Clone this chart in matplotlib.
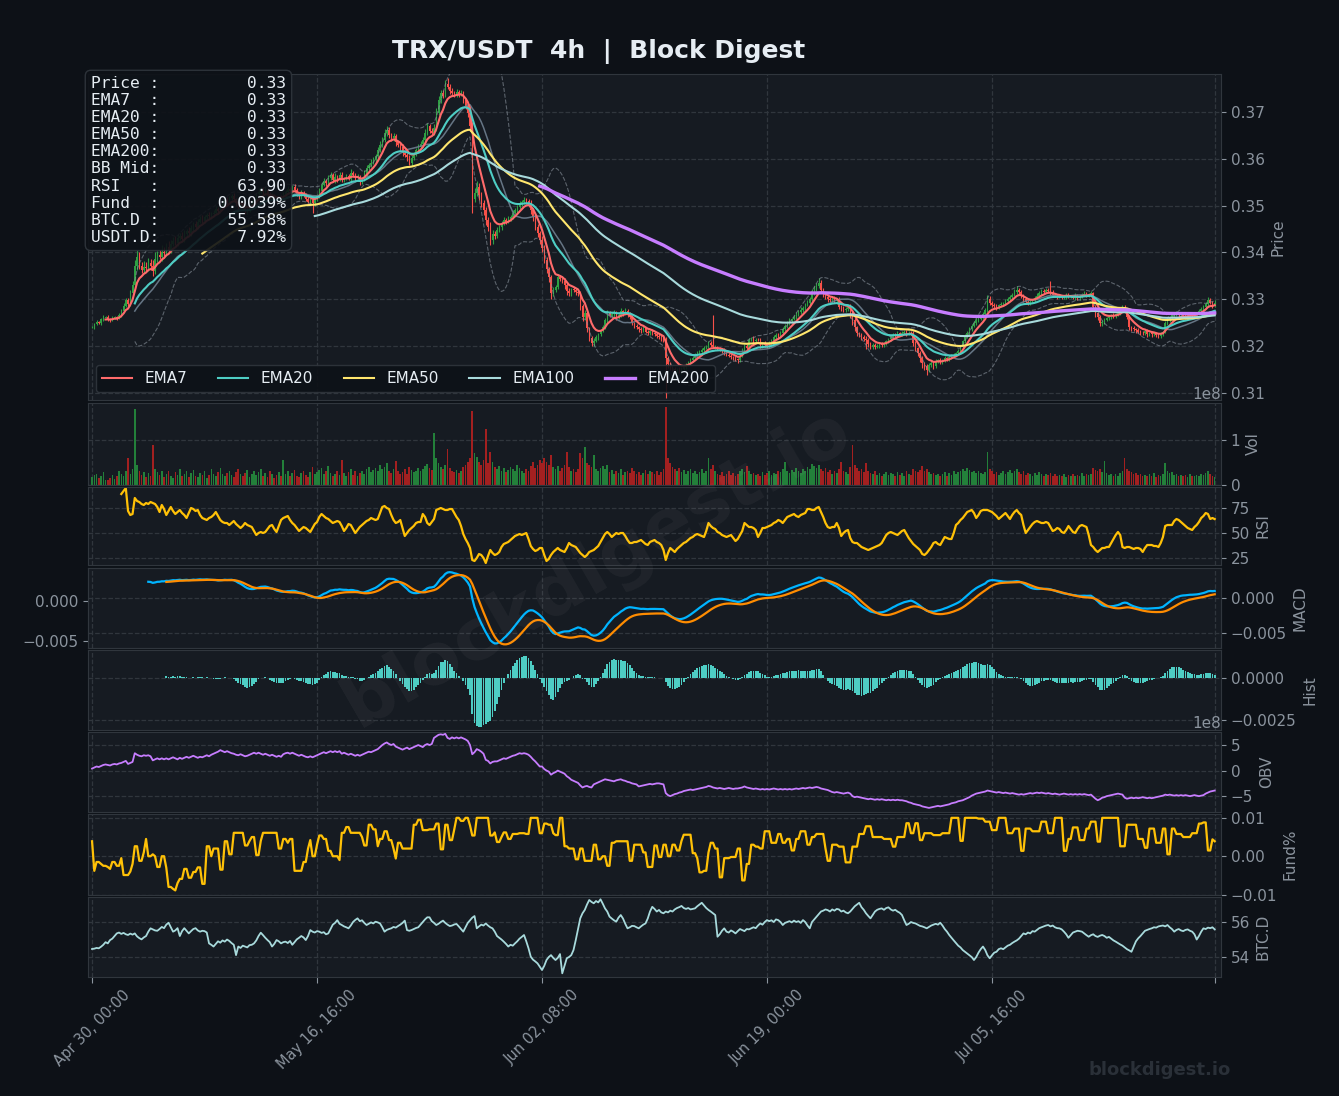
import numpy as np
import pandas as pd
import matplotlib
matplotlib.use("Agg")
import matplotlib.pyplot as plt
from matplotlib.ticker import FixedLocator

# ---------------- data ----------------
# close prices, units of 1e-4 USDT, 4h candles from Apr 30 00:00
close_e4 = [
    3241,3248,3252,3250,3257,3261,3263,3258,3255,3260,3262,3259,3266,3275,3286,3298,3290,3313,3330,3372,3390,3372,3362,3370,3366,
    3378,3371,3360,3385,3395,3390,3402,3398,3412,3405,3418,3425,3420,3431,3435,3428,3440,3446,3441,3452,3460,3455,3466,3472,3468,
    3475,3481,3477,3483,3485,3492,3488,3500,3506,3512,3508,3516,3520,3514,3505,3498,3502,3494,3488,3490,3497,3505,3512,3524,3530,
    3535,3529,3533,3524,3518,3522,3515,3510,3517,3515,3522,3530,3536,3532,3540,3533,3525,3520,3528,3522,3515,3508,3512,3505,3514,
    3520,3532,3545,3552,3548,3560,3566,3555,3562,3556,3566,3556,3559,3563,3557,3570,3565,3558,3562,3550,3555,3568,3580,3586,3592,
    3597,3605,3618,3630,3640,3655,3662,3650,3645,3648,3636,3630,3625,3612,3608,3604,3590,3602,3610,3618,3625,3632,3640,3656,3669,
    3660,3655,3665,3698,3725,3740,3735,3760,3754,3745,3740,3736,3742,3738,3740,3726,3712,3698,3670,3515,3528,3540,3522,3506,3490,
    3470,3455,3427,3440,3436,3448,3455,3462,3470,3466,3472,3476,3485,3490,3497,3503,3508,3512,3509,3505,3490,3476,3454,3441,3427,
    3410,3384,3365,3347,3313,3320,3326,3347,3344,3340,3330,3318,3313,3322,3320,3316,3313,3285,3262,3270,3238,3218,3206,3212,3219,
    3226,3233,3241,3255,3270,3265,3268,3272,3262,3266,3274,3270,3276,3268,3262,3249,3244,3240,3236,3234,3238,3231,3228,3232,3228,
    3225,3222,3219,3216,3213,3175,3162,3155,3152,3148,3150,3146,3152,3155,3160,3166,3170,3175,3180,3185,3188,3191,3196,3200,3206,
    3202,3198,3198,3195,3193,3191,3186,3182,3180,3177,3174,3172,3170,3180,3191,3200,3196,3213,3216,3210,3214,3213,3200,3206,3203,
    3200,3206,3212,3219,3224,3222,3228,3236,3242,3249,3254,3258,3262,3268,3273,3277,3282,3288,3292,3300,3313,3322,3328,3335,3320,
    3310,3305,3300,3298,3302,3296,3298,3283,3280,3277,3280,3283,3268,3256,3240,3228,3225,3220,3216,3213,3205,3198,3203,3199,3200,
    3204,3202,3205,3210,3215,3219,3224,3222,3228,3225,3228,3231,3226,3229,3228,3206,3195,3185,3175,3164,3158,3150,3160,3164,3158,
    3168,3170,3166,3170,3174,3172,3177,3180,3182,3185,3190,3198,3210,3220,3228,3236,3244,3249,3255,3258,3262,3268,3277,3300,3292,
    3288,3285,3283,3287,3290,3290,3296,3300,3305,3310,3316,3320,3315,3308,3300,3295,3292,3295,3298,3303,3308,3313,3318,3316,3320,
    3318,3315,3310,3308,3305,3307,3304,3305,3309,3306,3306,3303,3308,3302,3306,3310,3312,3308,3311,3313,3283,3270,3262,3249,3252,
    3256,3260,3262,3266,3264,3268,3270,3276,3283,3275,3262,3241,3238,3236,3234,3231,3229,3228,3232,3226,3228,3225,3227,3224,3222,
    3226,3230,3249,3255,3262,3266,3268,3270,3266,3268,3265,3263,3267,3268,3266,3269,3270,3275,3280,3283,3290,3298,3292,3286,3293,
]
# upper / lower wick lengths, units of 1e-4
wick_hi_e4 = [
    3,2,4,2,3,5,2,3,2,4,3,2,5,4,6,5,4,6,8,12,15,10,8,12,9,
    10,8,12,15,9,11,14,10,8,12,9,7,10,8,6,9,7,5,8,6,4,7,5,6,8,
    5,4,6,3,5,7,4,6,5,3,6,4,5,7,3,5,4,6,3,5,4,6,5,3,7,
    5,4,6,3,5,4,3,6,4,5,8,4,6,3,5,7,4,3,5,4,6,3,4,5,3,
    4,6,5,8,4,6,5,3,7,4,5,6,3,4,5,8,3,4,6,3,5,7,6,5,8,
    6,5,8,7,6,9,8,5,4,6,5,3,4,6,3,5,4,6,5,4,7,5,6,8,7,
    6,5,9,10,8,7,6,8,12,6,7,5,8,4,6,5,4,6,5,8,10,12,9,7,6,
    8,6,10,7,5,6,4,5,6,3,5,4,6,5,4,7,5,6,4,5,6,4,5,6,5,
    8,6,7,5,4,6,5,8,4,6,5,4,6,3,5,4,6,5,4,7,5,3,4,5,4,
    3,4,5,6,8,4,5,6,3,5,7,4,5,3,4,5,3,4,3,5,4,3,4,3,4,
    3,4,3,5,4,6,5,4,3,4,3,5,3,4,5,3,4,3,5,4,3,4,5,3,6,
    4,64,5,3,4,3,4,3,4,3,3,4,3,5,6,4,5,4,3,5,4,3,4,3,4,
    3,4,3,5,4,3,5,4,6,4,5,3,4,5,4,6,4,5,6,5,8,7,6,10,6,
    5,4,6,5,4,5,3,6,4,5,3,4,6,4,5,4,3,4,3,5,4,3,4,3,4,
    3,4,3,4,3,5,4,3,4,3,4,3,4,3,4,5,4,3,5,4,3,4,3,4,3,
    4,3,4,3,4,3,4,3,4,3,4,5,4,5,4,5,4,5,4,5,4,5,4,10,6,
    5,4,5,4,5,4,5,4,5,4,6,8,5,4,3,4,3,4,3,4,5,4,5,4,5,
    4,20,5,4,3,4,3,4,5,4,3,4,5,4,3,4,5,4,3,4,3,4,3,4,3,
    4,3,4,3,4,3,4,3,5,4,3,4,3,4,3,4,3,4,3,4,3,4,3,4,3,
    4,3,5,4,3,4,3,4,3,4,3,4,3,4,3,4,3,4,3,4,5,6,5,4,5,
]
wick_lo_e4 = [
    3,4,2,3,4,3,2,4,3,2,3,4,2,3,4,3,5,4,3,6,10,8,6,5,7,
    6,8,10,7,6,5,8,6,5,7,6,5,4,6,5,4,6,5,4,5,6,4,5,4,6,
    5,4,6,5,4,3,6,4,5,6,4,3,5,4,6,5,7,4,5,6,4,5,3,4,5,
    4,5,3,6,4,5,7,4,5,3,4,6,5,4,5,3,4,6,5,4,5,3,6,20,5,
    4,3,5,4,6,3,5,4,6,5,4,6,5,4,3,5,4,6,5,7,4,3,4,5,3,
    4,5,3,4,5,4,6,5,7,6,8,5,6,7,5,8,4,5,4,5,3,4,5,4,5,
    6,5,4,5,4,5,6,4,5,6,5,4,5,6,5,7,6,8,10,31,8,7,9,8,10,
    12,10,12,8,7,6,5,6,4,5,4,5,4,3,5,4,3,4,6,7,8,9,7,8,10,
    8,7,9,10,12,6,5,4,6,5,7,8,6,5,4,6,5,7,8,6,7,8,6,5,4,
    5,4,3,4,5,3,4,5,6,4,3,5,4,6,5,4,5,4,6,5,4,3,4,5,4,
    4,5,3,4,5,85,8,7,6,8,5,4,5,3,4,3,4,3,4,3,4,3,4,3,3,
    4,3,4,3,4,5,4,3,4,5,4,3,5,4,3,4,3,4,3,5,4,3,4,3,5,
    4,3,4,3,5,4,3,4,3,4,3,4,3,4,3,4,5,4,3,4,3,4,5,4,6,
    5,4,5,4,6,4,5,4,6,5,4,6,8,10,8,6,5,7,6,20,6,5,4,5,4,
    4,3,4,3,4,3,4,3,4,3,4,3,4,3,4,6,5,7,8,10,8,12,6,5,6,
    5,4,5,4,3,4,3,4,3,4,3,4,3,4,3,4,3,4,3,4,3,4,3,5,4,
    5,4,5,4,3,4,3,4,3,4,3,4,5,6,5,4,5,4,3,4,3,4,3,4,3,
    4,5,4,3,4,3,4,3,4,3,4,3,4,3,4,3,4,3,4,3,6,8,7,6,5,
    4,3,4,3,4,3,4,3,4,3,5,6,5,4,5,4,5,4,5,6,4,5,4,5,4,
    5,4,3,4,3,4,3,4,3,4,3,4,3,4,3,4,3,4,3,4,3,4,3,4,3,
]
# volume, millions of TRX
vol_m = [
    18,22,25,15,20,28,12,10,16,22,14,19,30,25,20,32,60,24,35,169,45,30,22,28,18,
    26,20,89,35,28,22,30,18,25,32,20,15,28,22,35,19,24,30,17,26,33,21,18,27,23,
    30,16,22,35,25,20,28,38,24,19,26,31,22,17,29,36,24,20,27,33,18,25,30,22,28,
    35,20,26,18,30,24,15,22,28,19,56,25,30,21,27,34,20,18,26,31,23,17,29,40,24,
    28,33,38,25,30,42,27,20,24,31,22,56,26,19,28,35,23,30,21,27,32,25,36,41,29,
    33,38,30,45,36,40,48,32,27,35,53,30,25,29,36,24,40,33,28,31,37,30,35,42,46,
    38,34,115,60,48,40,35,45,80,37,30,28,34,26,31,40,45,52,60,164,70,63,50,45,55,
    124,48,73,52,40,35,42,30,38,28,33,40,36,30,45,38,32,27,35,30,42,50,38,45,55,
    48,60,52,45,66,40,35,42,30,38,45,73,40,32,36,28,35,71,60,85,48,45,40,67,35,
    30,38,42,36,45,28,33,25,30,27,35,22,28,32,26,38,30,24,29,22,27,33,25,30,28,
    24,30,22,28,35,174,60,48,40,35,30,38,28,33,25,30,36,27,32,24,29,35,26,31,61,
    36,45,30,25,22,28,20,24,30,22,26,19,25,30,35,28,42,30,24,27,22,25,20,28,23,
    26,30,22,27,24,32,28,35,51,30,26,33,29,38,32,27,35,30,40,36,47,42,38,45,35,
    30,38,28,33,25,30,27,36,51,32,28,25,40,89,45,38,30,35,28,49,32,27,24,30,22,
    26,20,24,29,22,27,25,20,28,23,26,21,30,24,22,35,30,28,33,42,30,36,28,24,27,
    22,25,19,24,28,21,26,23,30,25,28,32,35,30,38,33,28,31,26,30,27,24,29,73,35,
    30,25,28,22,26,30,24,28,33,26,30,35,28,24,30,22,27,25,20,26,23,28,24,21,25,
    22,26,20,24,19,23,21,25,18,22,20,24,19,23,21,26,20,24,22,25,38,33,30,35,28,
    53,26,22,25,20,24,21,27,30,60,35,32,28,24,26,22,25,20,23,19,24,21,26,18,22,
    20,24,49,30,26,28,22,25,20,23,19,22,18,24,21,20,23,19,25,22,27,30,24,20,18,
]
# RSI as plotted (None before the first value)
rsi_vals = [None] * 13 + [
    89,92,95,72,68,69,85,82,81,79,78,80,
    79,81,80,79,76,71,78,74,68,72,76,72,69,71,73,70,68,65,70,75,74,72,73,68,65,
    64,63,65,66,68,71,67,63,61,60,60,58,60,62,59,57,55,57,60,58,57,56,52,48,50,
    51,50,51,54,57,58,54,51,57,63,65,66,67,63,60,58,55,52,54,56,55,53,51,55,59,
    61,66,69,67,65,64,62,60,61,62,61,57,52,55,59,58,54,50,53,56,58,60,62,63,65,
    64,63,64,70,76,77,75,74,68,63,60,61,63,55,47,50,53,55,57,60,61,61,69,66,60,
    58,61,64,73,74,75,74,73,73,74,74,70,66,63,57,49,44,40,35,23,22,25,29,28,25,
    20,27,33,30,28,29,31,36,39,40,41,43,45,47,48,49,48,49,50,44,37,34,32,33,35,
    35,28,22,24,28,31,33,35,33,32,31,35,40,38,37,36,33,30,28,26,28,31,32,33,35,
    37,41,45,49,51,49,46,48,50,49,50,50,47,43,40,40,41,41,42,43,41,39,38,41,42,
    43,41,40,38,33,23,30,35,33,31,34,36,38,40,41,43,45,46,48,49,48,47,46,52,60,
    57,55,54,51,50,48,47,46,47,48,45,42,44,48,52,60,58,56,56,55,53,46,50,55,55,
    56,57,58,60,61,63,62,60,63,66,67,68,69,67,66,68,69,70,74,74,73,73,75,76,71,
    66,60,56,55,56,56,60,55,47,50,52,53,45,41,40,40,38,36,35,34,33,34,35,36,37,
    38,40,44,48,50,51,50,49,48,50,52,53,49,45,42,39,37,35,33,29,28,30,33,36,40,
    41,39,38,42,46,45,44,44,50,58,60,63,65,68,71,72,73,70,65,68,72,73,73,73,72,
    71,69,67,64,66,68,70,67,64,68,71,73,70,68,58,50,53,56,59,61,62,61,60,60,61,
    60,56,52,53,55,54,51,50,53,57,54,51,50,54,57,58,57,56,48,38,36,33,31,33,35,
    35,36,36,40,44,48,51,48,36,35,36,36,35,34,35,35,34,31,35,38,38,38,37,37,36,
    40,46,57,58,58,58,62,64,63,61,59,57,55,54,53,56,58,61,65,67,70,69,64,65,63.9,
]
# on-balance volume as plotted, units of 1e7
obv_e7 = [
    4,6,8,7,9,11,12,11,10,12,13,12,14,15,17,19,13,15,17,34,31,29,28,30,29,
    30,28,20,22,24,22,24,22,24,22,24,26,24,22,25,23,25,27,25,27,29,27,25,27,26,
    28,30,28,31,33,35,37,40,38,36,38,36,34,33,31,30,32,30,28,29,31,33,35,33,35,
    33,31,33,31,29,31,29,27,29,27,32,34,35,33,35,33,31,29,31,29,27,26,28,26,28,
    30,32,34,36,34,36,38,36,38,36,38,33,35,33,31,33,31,29,31,29,31,33,35,37,36,
    38,40,42,46,50,53,55,52,50,52,47,45,43,41,43,45,42,44,46,48,50,48,46,50,52,
    50,52,64,67,70,71,70,72,64,62,65,63,65,63,65,63,61,58,50,32,36,42,40,37,33,
    21,19,14,17,18,18,20,22,24,23,25,27,29,30,32,34,33,34,33,31,27,22,18,13,8,
    8,3,0,-2,-8,-5,-3,0,-2,-4,-6,-11,-14,-18,-20,-22,-24,-29,-33,-31,-30,-32,-33,-27,-25,
    -23,-21,-19,-17,-18,-19,-20,-21,-19,-18,-17,-19,-20,-22,-23,-25,-26,-27,-31,-30,-29,-28,-27,-26,-27,
    -26,-25,-25,-26,-27,-44,-48,-50,-48,-46,-45,-43,-42,-40,-39,-38,-37,-38,-37,-36,-35,-34,-33,-32,-30,
    -31,-33,-34,-35,-34,-35,-36,-35,-34,-35,-36,-35,-35,-34,-33,-31,-33,-34,-35,-36,-35,-36,-37,-36,-37,
    -36,-37,-36,-35,-36,-37,-36,-37,-36,-37,-36,-37,-36,-35,-36,-35,-34,-35,-34,-33,-34,-33,-32,-33,-35,
    -36,-37,-38,-40,-42,-43,-42,-43,-44,-45,-44,-43,-45,-50,-52,-51,-52,-53,-54,-55,-56,-55,-56,-57,-56,
    -57,-56,-57,-58,-57,-58,-57,-58,-57,-58,-58,-59,-60,-62,-63,-65,-66,-67,-68,-70,-71,-72,-73,-72,-71,
    -70,-69,-70,-69,-68,-67,-66,-64,-63,-62,-60,-59,-58,-56,-54,-52,-49,-47,-45,-44,-43,-42,-41,-39,-40,
    -41,-42,-43,-42,-43,-44,-43,-44,-45,-44,-45,-46,-47,-46,-47,-46,-45,-44,-45,-44,-43,-44,-43,-44,-45,
    -44,-45,-46,-45,-46,-47,-46,-45,-46,-47,-46,-47,-46,-47,-46,-47,-46,-47,-48,-47,-51,-55,-58,-56,-53,
    -52,-50,-49,-48,-47,-46,-45,-46,-47,-53,-55,-54,-53,-54,-53,-54,-53,-52,-53,-54,-53,-54,-53,-52,-51,
    -50,-49,-47,-48,-47,-48,-49,-48,-49,-48,-49,-48,-49,-50,-49,-48,-49,-50,-49,-48,-45,-43,-41,-40,-39,
]
# funding rate, units of 1e-4 %
fund_e4 = [
    39,-38,-15,-15,-20,-25,-25,-28,-33,-15,-15,-25,-25,-5,-49,-49,-49,-40,-20,26,26,-12,-12,10,45,
    0,0,5,0,-28,-28,0,0,-30,-80,-80,-85,-89,-70,-59,-59,-33,-33,-56,-56,-41,-41,-29,-29,-72,
    -72,26,26,0,20,20,20,-35,-35,39,39,5,5,61,61,61,61,61,28,28,40,50,50,3,3,
    40,61,61,61,61,61,61,61,20,20,45,45,35,45,45,-38,-38,-38,-38,-15,-15,20,42,0,0,
    30,54,54,45,45,14,14,0,0,0,-10,61,61,76,76,61,61,61,61,61,50,28,28,82,82,
    70,70,26,45,45,65,65,42,42,20,-6,35,35,20,20,20,20,20,82,82,95,95,68,68,68,
    70,70,70,85,85,18,18,82,82,42,42,70,100,100,92,92,100,100,80,54,54,100,100,100,100,
    100,100,54,54,62,37,37,50,62,62,45,45,58,58,58,60,60,60,58,58,100,100,100,100,60,
    60,85,85,82,82,60,55,55,100,100,26,26,20,20,20,-8,-8,20,20,-12,-12,-12,-12,30,30,
    -8,-8,0,0,-25,-25,35,35,39,39,39,39,39,39,-12,-12,30,30,30,30,10,10,-28,-28,-28,
    28,28,-2,-2,30,30,0,0,30,30,15,15,40,56,56,56,56,8,8,-5,-42,-42,-38,-38,10,
    35,35,20,20,-55,-55,-5,-5,-5,-2,-2,-2,20,20,-63,-63,-20,-20,30,30,25,25,20,20,65,
    65,65,35,35,35,58,58,35,35,45,45,15,15,45,45,65,65,65,30,30,50,50,58,58,58,
    58,20,-12,-12,30,30,30,25,25,25,-16,-16,-16,25,25,25,58,58,58,78,78,78,50,50,50,
    50,50,45,45,45,45,25,25,50,50,50,50,86,86,60,60,86,86,42,42,60,60,60,60,55,
    55,55,55,60,60,60,60,100,100,100,100,40,40,100,100,100,100,100,100,98,98,98,90,90,90,
    68,68,68,100,100,100,100,60,60,60,72,72,72,14,14,72,72,72,65,65,65,65,90,90,90,
    60,60,60,100,100,100,100,14,14,45,45,75,75,75,42,42,42,72,72,90,90,90,38,38,100,
    100,100,100,100,100,100,100,26,26,26,82,82,82,82,82,45,45,45,22,22,72,72,72,35,35,
    35,72,72,5,5,72,72,58,58,58,50,50,50,50,60,60,60,85,85,88,88,15,15,44,39,
]
# BTC dominance, units of 0.01 %
btcd_e2 = [
    5446,5448,5452,5450,5459,5470,5485,5478,5497,5505,5520,5535,5540,5532,5538,5530,5526,5534,5528,5535,5518,5508,5501,5512,5520,
    5545,5564,5558,5552,5550,5560,5572,5565,5585,5596,5570,5545,5552,5565,5520,5548,5565,5550,5535,5548,5560,5565,5552,5545,5550,
    5548,5540,5478,5470,5460,5475,5490,5482,5495,5488,5500,5492,5480,5470,5411,5460,5452,5465,5460,5455,5468,5470,5478,5495,5520,
    5539,5525,5510,5497,5485,5460,5475,5497,5490,5478,5485,5488,5480,5492,5470,5485,5501,5510,5520,5512,5497,5520,5554,5545,5540,
    5548,5545,5538,5542,5530,5535,5560,5585,5595,5611,5590,5583,5575,5570,5564,5580,5600,5612,5621,5605,5610,5595,5583,5590,5598,
    5592,5602,5598,5592,5570,5545,5555,5560,5564,5572,5568,5577,5585,5595,5608,5554,5550,5554,5560,5566,5570,5585,5600,5615,5627,
    5627,5605,5595,5583,5590,5600,5608,5595,5585,5577,5580,5586,5589,5575,5560,5545,5570,5595,5610,5625,5634,5564,5575,5585,5580,
    5592,5580,5570,5564,5545,5520,5510,5500,5488,5475,5460,5470,5465,5478,5490,5505,5515,5526,5490,5450,5402,5385,5375,5364,5345,
    5326,5350,5383,5400,5411,5395,5383,5395,5417,5307,5350,5393,5400,5411,5440,5497,5560,5621,5650,5669,5700,5726,5715,5707,5720,
    5712,5730,5705,5678,5660,5631,5620,5610,5602,5625,5640,5620,5590,5564,5570,5578,5577,5570,5564,5575,5585,5592,5620,5660,5687,
    5675,5660,5669,5655,5650,5660,5655,5665,5660,5672,5680,5685,5692,5680,5675,5680,5672,5675,5678,5690,5700,5710,5695,5680,5669,
    5660,5650,5640,5516,5530,5550,5564,5545,5540,5552,5545,5535,5548,5560,5554,5548,5560,5558,5564,5570,5565,5580,5592,5585,5600,
    5611,5605,5610,5600,5615,5611,5600,5583,5595,5600,5605,5598,5608,5600,5605,5595,5611,5600,5580,5564,5600,5615,5630,5645,5660,
    5665,5672,5668,5660,5672,5665,5675,5672,5660,5665,5655,5650,5660,5675,5690,5700,5710,5685,5670,5650,5635,5621,5640,5660,5670,
    5675,5678,5670,5680,5684,5672,5665,5670,5660,5653,5640,5610,5583,5590,5600,5595,5592,5585,5578,5575,5570,5564,5572,5580,5585,
    5590,5585,5596,5580,5560,5545,5526,5510,5495,5480,5465,5455,5440,5430,5420,5410,5400,5383,5400,5425,5445,5460,5440,5410,5393,
    5410,5425,5430,5445,5450,5445,5455,5465,5470,5480,5488,5495,5505,5520,5535,5530,5540,5535,5548,5545,5555,5565,5570,5575,5580,
    5583,5575,5580,5570,5565,5564,5558,5545,5530,5510,5525,5540,5545,5550,5548,5545,5535,5525,5516,5525,5530,5520,5515,5522,5526,
    5520,5510,5515,5505,5495,5488,5480,5472,5465,5455,5445,5438,5430,5460,5490,5507,5520,5535,5550,5555,5560,5564,5570,5568,5575,
    5578,5580,5575,5583,5570,5560,5545,5555,5560,5552,5548,5555,5558,5550,5545,5530,5500,5520,5545,5564,5560,5568,5565,5570,5558,
]
tick_pos = [0, 100, 200, 300, 400, 499]
tick_labels = ["Apr 30, 00:00", "May 16, 16:00", "Jun 02, 08:00", "Jun 19, 00:00", "Jul 05, 16:00", ""]
info_labels = ["Price", "EMA7", "EMA20", "EMA50", "EMA200", "BB Mid", "RSI", "Fund", "BTC.D", "USDT.D"]
info_values = ["0.33", "0.33", "0.33", "0.33", "0.33", "0.33", "63.90", "0.0039%", "55.58%", "7.92%"]
ema_spans = [7, 20, 50, 100, 200]

# ---------------- derived series ----------------
close = np.array(close_e4) / 1e4
n = len(close)
opens = np.r_[close[0], close[:-1]]
high = np.maximum(opens, close) + np.array(wick_hi_e4) / 1e4
low = np.minimum(opens, close) - np.array(wick_lo_e4) / 1e4
vol = np.array(vol_m) * 1e6
fund = np.array(fund_e4) / 1e4
btcd = np.array(btcd_e2) / 100
rsi = np.array([np.nan if v is None else v for v in rsi_vals], dtype=float)
obv = np.array(obv_e7) * 1e7
x = np.arange(n)
cs = pd.Series(close)
emas = {s: cs.ewm(span=s, min_periods=s).mean() for s in ema_spans}
bb_mid = cs.rolling(20).mean()
bb_std = cs.rolling(20).std()
bb_up, bb_lo = bb_mid + 2 * bb_std, bb_mid - 2 * bb_std
macd = cs.ewm(span=12, min_periods=12).mean() - cs.ewm(span=26, min_periods=26).mean()
signal = macd.ewm(span=9, min_periods=9).mean()
hist = macd - signal

# ---------------- style ----------------
BG = "#0d1117"
PANEL = "#161b22"
GRID = "#30363d"
GRAY = "#8b949e"
TXT = "#e6edf3"
UP, DN = "#2ea043", "#f85149"
VUP, VDN = "#23803a", "#a32020"
ema_colors = {7: "#ff6b6b", 20: "#4ecdc4", 50: "#ffe66d", 100: "#a8dadc", 200: "#c77dff"}

fig = plt.figure(figsize=(13.39, 10.96), dpi=100, facecolor=BG)
W, H = 1339.0, 1096.0
L, R = 88, 1221


def add(top, bot):
    ax = fig.add_axes([L / W, 1 - bot / H, (R - L) / W, (bot - top) / H])
    ax.set_facecolor(PANEL)
    for s in ax.spines.values():
        s.set_color(GRID)
    ax.yaxis.tick_right()
    ax.yaxis.set_label_position("right")
    ax.tick_params(axis="y", colors=GRAY, labelsize=11)
    ax.tick_params(axis="x", colors=GRAY, labelsize=10.5, length=0, labelbottom=False)
    ax.grid(True, color=GRID, linestyle="--", linewidth=0.9)
    ax.set_axisbelow(True)
    ax.set_xlim(-1.8, 501.8)
    ax.xaxis.set_major_locator(FixedLocator(tick_pos))
    ax.yaxis.get_offset_text().set_color(GRAY)
    ax.yaxis.get_offset_text().set_fontsize(11)
    return ax


ax_p = add(74, 400)
ax_v = add(403, 485)
ax_r = add(487, 565)
ax_m = add(568, 648)
ax_h = add(650, 730)
ax_o = add(732, 812)
ax_f = add(814, 895)
ax_b = add(897, 977)

# price
up = close >= opens
ccol = np.where(up, UP, DN)
ax_p.vlines(x, low, high, color=ccol, linewidth=0.8, zorder=2)
ax_p.bar(x, np.maximum(np.abs(close - opens), 0.00004), bottom=np.minimum(opens, close),
         width=0.65, color=ccol, linewidth=0, zorder=2)
ax_p.plot(x, bb_up, color=GRAY, linestyle="--", linewidth=0.8, alpha=0.6, zorder=3)
ax_p.plot(x, bb_lo, color=GRAY, linestyle="--", linewidth=0.8, alpha=0.6, zorder=3)
ax_p.plot(x, bb_mid, color="#6e7f8f", linewidth=1.1, alpha=0.9, zorder=3)
for s in ema_spans:
    ax_p.plot(x, emas[s], color=ema_colors[s], linewidth=2.4 if s == 200 else 1.5,
              label=f"EMA{s}", zorder=4)
ax_p.set_ylim(0.3085, 0.3781)
ax_p.yaxis.set_major_locator(FixedLocator([0.31, 0.32, 0.33, 0.34, 0.35, 0.36, 0.37]))
ax_p.set_ylabel("Price", color=GRAY, fontsize=11)
leg = ax_p.legend(loc="lower left", ncol=5, fontsize=11, facecolor=BG, edgecolor=GRID,
                  framealpha=0.9, labelcolor=TXT)
info = "\n".join(f"{l:<6}:{v:>13}" for l, v in zip(info_labels, info_values))
ax_p.text(0.0026, 0.994, info, transform=ax_p.transAxes, va="top", ha="left",
          family="DejaVu Sans Mono", fontsize=11.7, color=TXT, zorder=10, linespacing=1.175,
          bbox=dict(boxstyle="round,pad=0.35", fc=BG, ec=GRID, alpha=0.9))

# volume
ax_v.bar(x, vol, width=0.7, color=np.where(up, VUP, VDN), linewidth=0)
ax_v.set_ylim(0, 1.82e8)
ax_v.yaxis.set_major_locator(FixedLocator([0, 1e8]))
ax_v.set_ylabel("Vol", color=GRAY, fontsize=11)

# RSI
ax_r.plot(x, rsi, color="#ffc107", linewidth=1.6)
ax_r.set_ylim(18, 96)
ax_r.yaxis.set_major_locator(FixedLocator([25, 50, 75]))
ax_r.set_ylabel("RSI", color=GRAY, fontsize=11)

# MACD (signal drawn on its own twin scale)
ax_m.plot(x, macd, color="#00b4ff", linewidth=1.6)
ax_m.set_ylim(-0.00714, 0.00429)
ax_m.yaxis.set_major_locator(FixedLocator([-0.005, 0.0]))
ax_m.set_ylabel("MACD", color=GRAY, fontsize=11)
ax_s = ax_m.twinx()
ax_s.yaxis.tick_left()
ax_s.plot(x, signal, color="#ff8c00", linewidth=1.6)
ax_s.set_ylim(-0.0059, 0.0041)
ax_s.yaxis.set_major_locator(FixedLocator([-0.005, 0.0]))
ax_s.tick_params(axis="y", colors=GRAY, labelsize=11)
for s in ax_s.spines.values():
    s.set_color(GRID)
ax_m.tick_params(axis="y", left=False, labelleft=False, right=True, labelright=True)

# histogram
ax_h.bar(x, hist, width=0.8, color="#4ecdc4", linewidth=0)
ax_h.set_ylim(-0.0031, 0.00167)
ax_h.yaxis.set_major_locator(FixedLocator([-0.0025, 0.0]))
ax_h.set_ylabel("Hist", color=GRAY, fontsize=11)

# OBV
ax_o.plot(x, obv, color="#c77dff", linewidth=1.3)
ax_o.set_ylim(-8.1e8, 7.55e8)
ax_o.yaxis.set_major_locator(FixedLocator([-5e8, 0, 5e8]))
ax_o.set_ylabel("OBV", color=GRAY, fontsize=11)

# funding
ax_f.plot(x, fund, color="#ffc107", linewidth=1.6)
ax_f.set_ylim(-0.0101, 0.0110)
ax_f.yaxis.set_major_locator(FixedLocator([-0.01, 0.0, 0.01]))
ax_f.set_ylabel("Fund%", color=GRAY, fontsize=11)

# BTC dominance
ax_b.plot(x, btcd, color="#a8dadc", linewidth=1.3)
ax_b.set_ylim(52.86, 57.43)
ax_b.yaxis.set_major_locator(FixedLocator([54, 56]))
ax_b.set_ylabel("BTC.D", color=GRAY, fontsize=11)
ax_b.tick_params(axis="x", length=4, labelbottom=True)
ax_b.set_xticklabels(tick_labels, rotation=45)

fig.text(0.447, 0.9526, "TRX/USDT  4h  |  Block Digest", ha="center", va="center",
         color=TXT, fontsize=18, fontweight="bold")
fig.text(0.446, 0.482, "blockdigest.io", ha="center", va="center", rotation=30,
         color="white", alpha=0.045, fontsize=52, fontweight="bold")
fig.text(0.866, 0.0237, "blockdigest.io", ha="center", va="center",
         color="#2a3038", fontsize=13, fontweight="bold")

fig.savefig("out.png", dpi=100, facecolor=BG)
